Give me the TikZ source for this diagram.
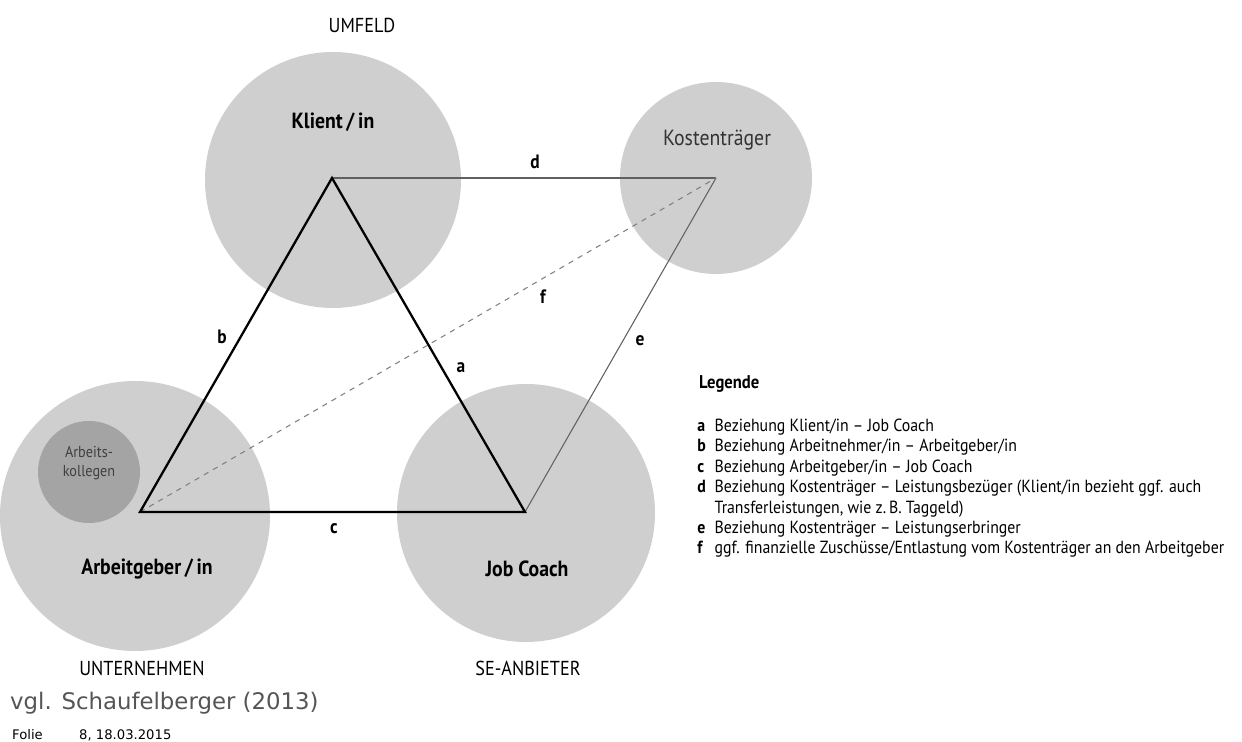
\documentclass[tikz,border=0pt]{standalone}
\usepackage{fontspec}
\setmainfont[FakeStretch=0.9]{PT Sans}
\newfontfamily\notefont{DejaVu Sans}
\usetikzlibrary{positioning}
\definecolor{bubblegray}{HTML}{CFCFCF}
\definecolor{colleaguegray}{HTML}{A4A4A4}
\definecolor{linkgray}{HTML}{606060}
\definecolor{notegray}{HTML}{555555}
\begin{document}
\begin{tikzpicture}[x=0.02cm,y=-0.02cm,
    side/.style={line width=1.3pt,black},
    thinlink/.style={line width=0.6pt,linkgray},
    edgelabel/.style={font=\bfseries\fontsize{11}{13}\selectfont},
    rolelabel/.style={font=\bfseries\fontsize{12.5}{15}\selectfont},
    arealabel/.style={font=\fontsize{11.5}{13}\selectfont}]
  \useasboundingbox (0,0) rectangle (1242,742);
  % Kreise
  \fill[bubblegray] (333,180) circle (128);
  \fill[bubblegray] (716,178) circle (96);
  \fill[bubblegray] (135,516) circle (135);
  \fill[bubblegray] (526,513) circle (129);
  \fill[colleaguegray] (89,472) circle (51);
  % Ecken
  \coordinate (klient) at (332,178);
  \coordinate (kosten) at (716,178);
  \coordinate (arbeitgeber) at (140,512);
  \coordinate (coach) at (525,512);
  % Beziehungen
  \draw[thinlink] (klient) -- (kosten);
  \draw[thinlink] (kosten) -- (coach);
  \draw[dashed,line width=0.6pt,gray] (arbeitgeber) -- (kosten);
  \draw[side,line join=miter] (klient) -- (coach) -- (arbeitgeber) -- cycle;
  \node[edgelabel] (la) at (461,368) {a};
  \node[edgelabel] (lb) at (222,337) {b};
  \node[edgelabel] (lc) at (334,529) {c};
  \node[edgelabel] (ld) at (535,162) {d};
  \node[edgelabel] (le) at (640,341) {e};
  \node[edgelabel] (lf) at (543,297) {f};
  % Beschriftungen
  \node[rolelabel] (tklient) at (333,122) {Klient\,/\,in};
  \node[font=\fontsize{12.5}{15}\selectfont,black!80] (tkosten) at (717,140) {Kostenträger};
  \node[rolelabel] (targeber) at (147,569) {Arbeitgeber\,/\,in};
  \node[rolelabel] (tcoach) at (527,569) {Job Coach};
  \node[font=\fontsize{9}{10.5}\selectfont,black!75,align=center] (tkollegen) at (89,463) {Arbeits-\\kollegen};
  \node[arealabel] (umfeld) at (362,25) {UMFELD};
  \node[arealabel] (unternehmen) at (142,668) {UNTERNEHMEN};
  \node[arealabel] (anbieter) at (528,668) {SE-ANBIETER};
  % Legende
  \node[anchor=west,font=\bfseries\fontsize{10.5}{13}\selectfont] (legende) at (693,384) {Legende};
  \node[anchor=north west,inner sep=0pt,font=\fontsize{10}{11.6}\selectfont] (legend) at (697,417) {%
    \begin{tabular}{@{}l@{\hspace{5pt}}l@{}}
      \textbf{a} & Beziehung Klient/in – Job Coach\\
      \textbf{b} & Beziehung Arbeitnehmer/in – Arbeitgeber/in\\
      \textbf{c} & Beziehung Arbeitgeber/in – Job Coach\\
      \textbf{d} & Beziehung Kostenträger – Leistungsbezüger (Klient/in bezieht ggf. auch\\
                 & Transferleistungen, wie z.\,B. Taggeld)\\
      \textbf{e} & Beziehung Kostenträger – Leistungserbringer\\
      \textbf{f} & ggf. finanzielle Zuschüsse/Entlastung vom Kostenträger an den Arbeitgeber
    \end{tabular}};
  % Fusszeile
  \node[anchor=west,font=\notefont\fontsize{13}{16}\selectfont,notegray] (quelle) at (4,703) {vgl. Schaufelberger (2013)};
  \node[anchor=west,font=\notefont\fontsize{7.5}{9}\selectfont] (folie) at (6,735) {Folie};
  \node[anchor=west,font=\notefont\fontsize{7.5}{9}\selectfont] (datum) at (73,735) {8, 18.03.2015};
\end{tikzpicture}
\end{document}
